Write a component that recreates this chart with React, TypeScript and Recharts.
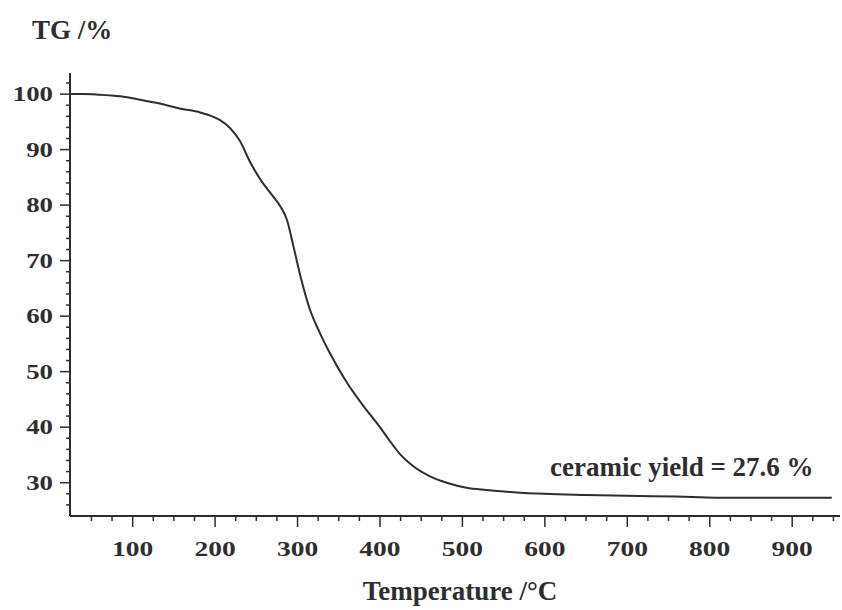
import { Line, LineChart, XAxis, YAxis } from 'recharts';

// TG 曲線 (熱重量分析) — 温度に対する残存重量 %

const temperature = [
  24, 40, 58, 85, 109, 133, 157, 182, 198, 206, 218, 230, 242, 255, 267, 279,
  287, 295, 303, 315, 327, 339, 360, 380, 400, 412, 424, 440, 460, 481, 505,
  529, 562, 600, 650, 715, 760, 808, 870, 948,
];

const tgPercent = [
  100.0, 100.0, 99.9, 99.6, 99.0, 98.3, 97.4, 96.7, 95.9, 95.3, 93.9, 91.6,
  87.9, 84.6, 82.2, 79.8, 77.4, 72.6, 67.5, 61.2, 57.0, 53.4, 48.0, 43.8, 40.0,
  37.5, 35.2, 33.0, 31.2, 30.0, 29.1, 28.7, 28.3, 28.0, 27.8, 27.6, 27.5, 27.3,
  27.3, 27.3,
];

const xTicks = Array.from({ length: 37 }, (_, i) => 50 + i * 25); // 50..950
const yTicks = Array.from({ length: 39 }, (_, i) => 26 + i * 2); // 26..102

const data = temperature.map((t, i) => ({ t, tg: tgPercent[i] }));

const INK = '#2e2e2e';
const FONT = '"Liberation Serif", "Times New Roman", serif';

function XTick(props: any) {
  const { x, y, payload } = props;
  const v = payload.value as number;
  const major = v % 100 === 0;
  return (
    <g>
      <line x1={x} x2={x} y1={y} y2={y + (major ? 11 : 5)} stroke={INK} strokeWidth={1.5} />
      {major && (
        <text
          transform={`translate(${x},${y + 40}) scale(1.25,1)`}
          textAnchor="middle"
          fontFamily={FONT}
          fontWeight="bold"
          fontSize={22}
          fill={INK}
        >
          {v}
        </text>
      )}
    </g>
  );
}

function YTick(props: any) {
  const { x, y, payload } = props;
  const v = payload.value as number;
  const major = v % 10 === 0;
  return (
    <g>
      <line x1={x} x2={x - (major ? 10 : 4)} y1={y} y2={y} stroke={INK} strokeWidth={1.5} />
      {major && (
        <text
          transform={`translate(${x - 17},${y + 7}) scale(1.22,1)`}
          textAnchor="end"
          fontFamily={FONT}
          fontWeight="bold"
          fontSize={22}
          fill={INK}
        >
          {v}
        </text>
      )}
    </g>
  );
}

export default function App() {
  return (
    <div style={{ position: 'absolute', left: 0, top: 0, width: 842, height: 610, background: '#fff' }}>
      <LineChart
        width={842}
        height={610}
        data={data}
        margin={{ top: 73, right: 2, left: 10, bottom: 54 }}
      >
        <XAxis
          dataKey="t"
          type="number"
          domain={[24, 958]}
          ticks={xTicks}
          interval={0}
          allowDataOverflow
          height={40}
          tickSize={0}
          tickMargin={0}
          tickLine={false}
          axisLine={{ stroke: INK, strokeWidth: 2 }}
          tick={<XTick />}
        />
        <YAxis
          type="number"
          domain={[24, 103.8]}
          ticks={yTicks}
          interval={0}
          allowDataOverflow
          width={60}
          tickSize={0}
          tickMargin={0}
          tickLine={false}
          axisLine={{ stroke: INK, strokeWidth: 2 }}
          tick={<YTick />}
        />
        <Line
          dataKey="tg"
          type="monotone"
          stroke={INK}
          strokeWidth={2}
          dot={false}
          isAnimationActive={false}
        />
        <text x={32} y={39} fontFamily={FONT} fontWeight="bold" fontSize={27} fill={INK}>
          TG /%
        </text>
        <text x={460} y={600} textAnchor="middle" fontFamily={FONT} fontWeight="bold" fontSize={27} fill={INK}>
          Temperature /°C
        </text>
        <text x={550} y={476} fontFamily={FONT} fontWeight="bold" fontSize={27} fill={INK}>
          ceramic yield = 27.6 %
        </text>
      </LineChart>
    </div>
  );
}
